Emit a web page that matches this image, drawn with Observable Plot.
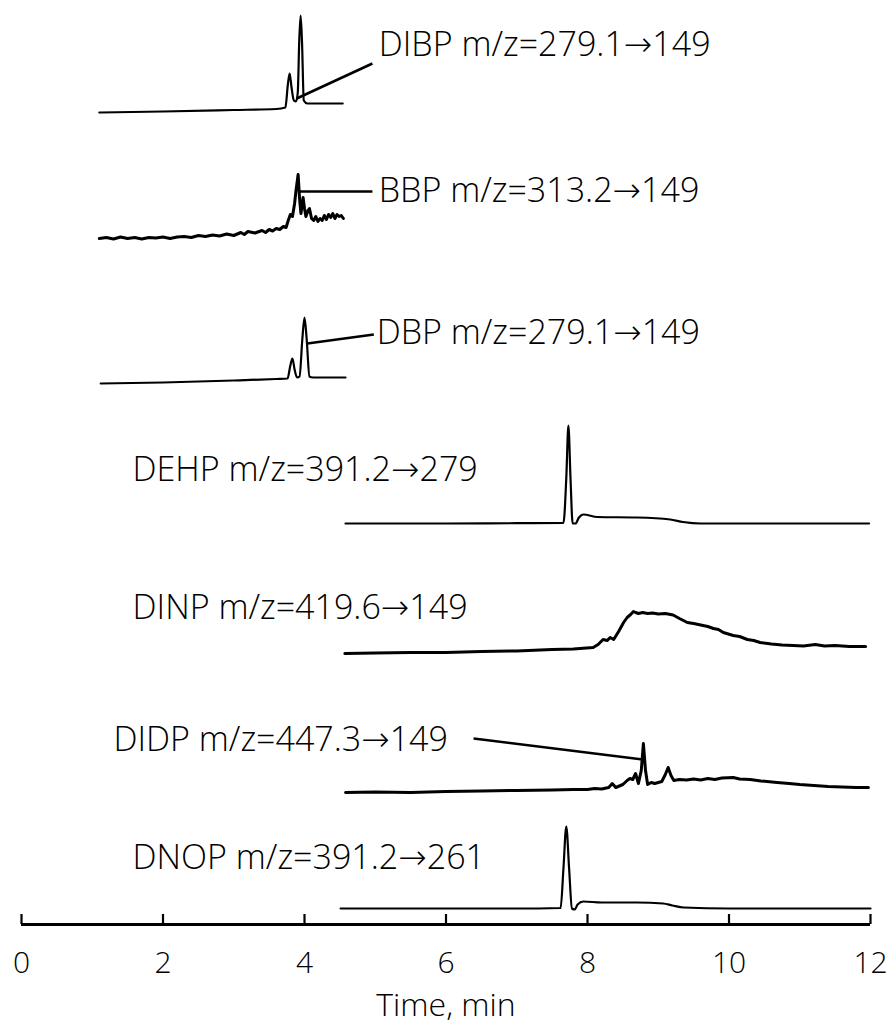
<!DOCTYPE html>
<html>
<head>
<meta charset="utf-8">
<script src="https://cdn.jsdelivr.net/npm/d3@7"></script>
<script src="https://cdn.jsdelivr.net/npm/@observablehq/plot@0.6"></script>
<style>
  html, body { margin: 0; padding: 0; background: #fff; }
  #chart svg { display: block; }
</style>
</head>
<body>
<div id="chart"></div>
<script>
// ---- Data (time in min, intensity above each trace's own baseline) ----
const compounds = ["DIBP", "BBP", "DBP", "DEHP", "DINP", "DIDP", "DNOP"];
const transitions = ["m/z=279.1→149", "m/z=313.2→149", "m/z=279.1→149", "m/z=391.2→279",
                     "m/z=419.6→149", "m/z=447.3→149", "m/z=391.2→261"];
const baselines = [812, 686, 541, 401, 271, 132, 16];   // stacking offsets
const noisy = [false, true, false, false, true, true, false];

const dibp = [[1.10,0],[2.00,1],[3.00,2.5],[3.60,3.5],[3.73,5],[3.765,28],[3.79,39],[3.815,26],[3.85,12],
  [3.88,11],[3.905,20],[3.925,70],[3.945,97],[3.965,70],[3.99,12],[4.04,9],[4.54,9]];
const bbp = [[1.10,0],[1.2,1],[1.3,-0.5],[1.4,1.5],[1.5,0],[1.6,1],[1.7,-0.5],[1.8,1],[1.9,0.5],[2.0,1.5],
  [2.1,0],[2.2,1.5],[2.3,2],[2.4,1],[2.5,3],[2.6,2],[2.7,3.5],[2.8,2.5],[2.9,4.5],[3.0,3],[3.1,6],[3.15,4],
  [3.2,7],[3.3,5.5],[3.4,8],[3.45,6],[3.5,9],[3.55,7.5],[3.6,10],[3.65,9],[3.7,12],[3.74,11],[3.77,18],
  [3.8,24],[3.83,22],[3.86,35],[3.88,48],[3.91,64],[3.93,40],[3.95,25],[3.98,41],[4.0,30],[4.02,22],
  [4.05,28],[4.07,30],[4.10,20],[4.13,18],[4.16,22],[4.19,17],[4.22,20],[4.25,18],[4.28,23],[4.31,19],
  [4.34,24],[4.37,21],[4.40,25],[4.43,20],[4.46,24],[4.49,22],[4.52,23],[4.55,20]];
const dbp = [[1.12,0],[2.0,1],[3.0,3],[3.6,4.5],[3.76,5],[3.80,18],[3.83,25],[3.86,14],[3.895,6],[3.93,7],
  [3.97,45],[4.0,66],[4.03,45],[4.07,7],[4.12,6],[4.58,6]];
const dehp = [[4.58,0],[6.0,0],[7.0,0.3],[7.66,0.5],[7.70,45],[7.73,98],[7.76,45],[7.79,0],[7.83,0],
  [7.88,6],[7.94,9],[8.14,6.5],[8.7,6],[9.17,4],[9.35,1.5],[9.6,0],[11.98,0]];
const dinp = [[4.57,0],[5.0,0.5],[5.5,1],[6.0,1],[6.5,2],[7.0,2.5],[7.5,4],[7.8,4.5],[8.08,6],[8.15,9],
  [8.22,14],[8.28,13],[8.32,16],[8.37,14],[8.44,22],[8.51,31],[8.56,36],[8.61,39],[8.65,42],[8.68,41],
  [8.72,40],[8.78,41],[8.85,40],[8.92,40.5],[9.0,39.5],[9.1,40],[9.21,38.5],[9.3,35],[9.41,31],[9.5,30],
  [9.6,28.5],[9.7,27],[9.78,25],[9.85,24],[9.92,21],[10.06,18],[10.15,17],[10.26,14],[10.35,13],
  [10.44,11],[10.6,9.5],[10.75,8.5],[10.91,8],[11.05,7.5],[11.22,9],[11.35,7.5],[11.5,8],[11.7,7],[11.93,7]];
const didp = [[4.58,0],[5.0,0.5],[5.5,0],[6.0,1],[6.5,1.5],[7.0,2],[7.5,2.5],[7.8,3],[8.0,3],[8.1,4],
  [8.2,3.5],[8.3,5],[8.35,9],[8.4,5],[8.5,8],[8.56,12],[8.6,14],[8.64,13],[8.68,19],[8.72,9],[8.76,22],
  [8.79,49],[8.82,22],[8.85,8],[8.9,10],[8.95,9],[9.05,11],[9.1,18],[9.14,25],[9.18,17],[9.22,12],
  [9.3,13],[9.4,12.5],[9.5,13.5],[9.6,12.5],[9.7,14],[9.8,13],[9.9,14.5],[10.06,15],[10.15,13.5],
  [10.3,13],[10.45,11.5],[10.68,10],[10.85,9],[11.0,8],[11.2,7],[11.4,6],[11.6,5.5],[11.8,5],[11.97,5]];
const dnop = [[4.51,0],[6.0,0],[7.0,0],[7.62,0.5],[7.66,40],[7.70,82],[7.74,40],[7.78,0],[7.82,-1],
  [7.86,4],[7.94,7],[8.2,6],[8.7,6],[9.07,5],[9.2,3],[9.36,1],[10,0],[12,0]];
const traces = [dibp, bbp, dbp, dehp, dinp, didp, dnop];

// label anchor (left edge, vertical middle) per compound
const labelTime = [5.05, 5.05, 5.02, 1.57, 1.57, 1.30, 1.57];
const labelLevel = [879, 733, 591, 454, 316, 184, 66];

// leader lines [compound, t1, y1, t2, y2]
const leaders = [["DIBP", 3.89, 826, 4.96, 861], ["BBP", 3.92, 733, 4.96, 733],
                 ["DBP", 4.04, 581, 4.98, 590], ["DIDP", 6.39, 186, 8.78, 165]];

const xTicks = [0, 2, 4, 6, 8, 10, 12];
const xLabel = "Time, min";

// ---- Build tables ----
const points = traces.flatMap((tr, i) => tr.map(([t, v]) => ({
  name: compounds[i], t, y: baselines[i] + v, noisy: noisy[i]})));
const labels = compounds.map((c, i) => ({text: `${c} ${transitions[i]}`, t: labelTime[i], y: labelLevel[i]}));
const leaderRows = leaders.map(([name, t1, y1, t2, y2]) => ({name, t1, y1, t2, y2}));

const font = "'Open Sans', 'DejaVu Sans', sans-serif";
const chart = Plot.plot({
  width: 893,
  height: 1027,
  marginLeft: 21,
  marginRight: 23,
  marginTop: 0,
  marginBottom: 103,
  style: {fontFamily: font, background: "#fff", color: "#000"},
  x: {domain: [0, 12], ticks: xTicks},
  y: {domain: [0, 924], axis: null},
  marks: [
    Plot.ruleY([0], {stroke: "#000", strokeWidth: 3.2}),
    Plot.ruleX(xTicks, {x: d => d, y1: 0, y2: 10, stroke: "#000", strokeWidth: 2.2}),
    Plot.axisX({ticks: xTicks, tickSize: 0, tickPadding: 27, fontSize: 30, fontWeight: 300, label: null}),
    Plot.axisX({ticks: [], tickSize: 0, fontSize: 32, fontWeight: 300,
      label: xLabel, labelAnchor: "center", labelArrow: "none", labelOffset: 91}),
    Plot.line(points.filter(d => !d.noisy), {x: "t", y: "y", z: "name", stroke: "#000", strokeWidth: 2.2,
      strokeLinejoin: "round", curve: "monotone-x"}),
    Plot.line(points.filter(d => d.noisy), {x: "t", y: "y", z: "name", stroke: "#000", strokeWidth: 3,
      strokeLinejoin: "round"}),
    Plot.link(leaderRows, {x1: "t1", y1: "y1", x2: "t2", y2: "y2", stroke: "#000", strokeWidth: 2.6}),
    Plot.text(labels, {x: "t", y: "y", text: "text", textAnchor: "start", lineAnchor: "middle",
      fontSize: 34, fontWeight: 300, fill: "#000"})
  ]
});
document.getElementById("chart").appendChild(chart);
</script>
</body>
</html>
